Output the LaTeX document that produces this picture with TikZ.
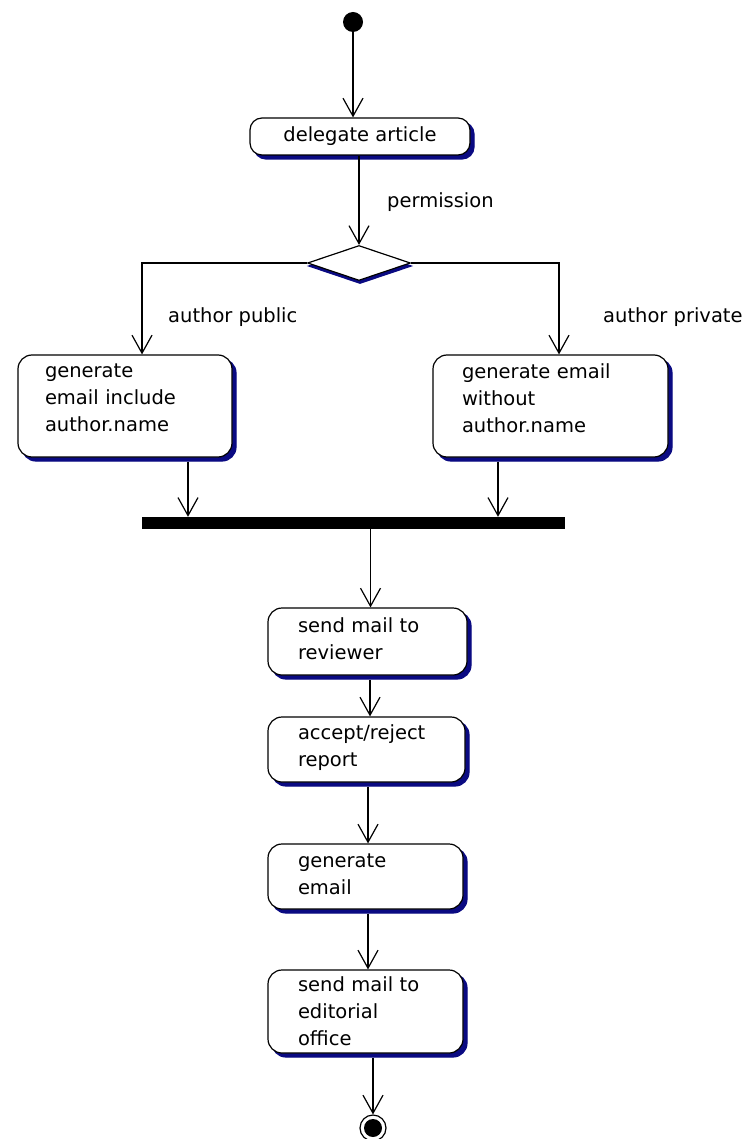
\documentclass[tikz,border=0pt]{standalone}
\usepackage{fontspec}
\setmainfont{DejaVu Sans}
\usetikzlibrary{arrows.meta,shapes.geometric,shadows,calc}
\definecolor{shadowblue}{RGB}{10,10,130}
\begin{document}
\begin{tikzpicture}[x=1pt,y=-1pt,
  every node/.style={font=\fontsize{19.5}{27}\selectfont},
  flow/.style={draw=black, line width=1.2pt,
    -{Straight Barb[length=18pt,width=20pt,line width=1.2pt]}},
  activity/.style={draw=black, fill=white, line width=1.2pt,
    rounded corners=14pt, align=left, inner ysep=0pt,
    general shadow={shadow xshift=4pt, shadow yshift=-4pt, fill=shadowblue, draw=shadowblue}},
  raise text/.style={execute at end node={\endgraf\vspace*{#1}}},
  choice/.style={diamond, draw=black, fill=white, line width=1.2pt, inner sep=0pt,
    minimum width=103pt, minimum height=35pt,
    general shadow={shadow xshift=1pt, shadow yshift=-3pt, fill=shadowblue, draw=shadowblue}},
  guard/.style={anchor=base west, inner sep=0pt}
]
\useasboundingbox (0,0) rectangle (755,1139);

% initial and final states
\node[circle, fill=black, minimum size=20pt, inner sep=0pt] (start) at (353,22) {};
\node[circle, draw=black, line width=1.2pt, minimum size=26pt, inner sep=0pt,
  path picture={\fill[black] (path picture bounding box.center) circle (9pt);}] (final) at (373,1128) {};

% activities
\node[activity, rounded corners=12pt, minimum width=220pt, minimum height=37pt, align=center] (del) at (360,136.5) {delegate article};
\node[choice] (dia) at (359,263) {};
\node[activity, raise text=16pt, minimum width=214pt, minimum height=102pt, inner xsep=27pt, text width=160pt] (left) at (125,406)
  {generate\\email include\\author.name};
\node[activity, raise text=16pt, minimum width=235pt, minimum height=102pt, inner xsep=29pt, text width=177pt] (right) at (550.5,406)
  {generate email\\without\\author.name};
\node[fill=black, minimum width=423pt, minimum height=12pt, inner sep=0pt] (bar) at (353.5,523) {};
\node[activity, raise text=6pt, minimum width=199pt, minimum height=67pt, inner xsep=30pt, text width=139pt] (rev) at (367.5,641.5)
  {send mail to\\reviewer};
\node[activity, raise text=4pt, minimum width=197pt, minimum height=65pt, inner xsep=30pt, text width=137pt] (acc) at (366.5,749.5)
  {accept/reject\\report};
\node[activity, raise text=4pt, minimum width=195pt, minimum height=65pt, inner xsep=30pt, text width=135pt] (gen) at (365.5,876.5)
  {generate\\email};
\node[activity, minimum width=195pt, minimum height=83pt, inner xsep=30pt, text width=135pt] (edi) at (365.5,1011.5)
  {send mail to\\editorial\\office};

% guard labels
\node[guard] (perm) at (387,208) {permission};
\node[guard] (pub) at (168,322) {author public};
\node[guard] (priv) at (603,322) {author private};

% transitions
\coordinate (lin) at ($(left.north)+(17,0)$);
\coordinate (rin) at ($(right.north)+(8.5,0)$);
\coordinate (lout) at ($(left.south)+(63,0)$);
\coordinate (rout) at ($(right.south)+(-52.5,0)$);
\coordinate (bout) at ($(bar.south)+(17,0)$);
\coordinate (mid1) at ($(rev.south)+(2.5,0)$);
\coordinate (mid2) at ($(acc.south)+(1.5,0)$);
\coordinate (mid3) at ($(gen.south)+(2.5,0)$);

\draw[flow] (start) -- (start |- del.north);
\draw[flow] (del.south -| dia.north) -- (dia.north);
\draw[flow] (dia.west) -| (lin);
\draw[flow] (dia.east) -| (rin);
\draw[flow] ([yshift=-4pt]lout) -- (lout |- bar.north);
\draw[flow] ([yshift=-4pt]rout) -- (rout |- bar.north);
\draw[flow] (bout) -- (bout |- rev.north);
\draw[flow] ([yshift=-4pt]mid1) -- (mid1 |- acc.north);
\draw[flow] ([yshift=-4pt]mid2) -- (mid2 |- gen.north);
\draw[flow] ([yshift=-4pt]mid3) -- (mid3 |- edi.north);
\draw[flow] ([yshift=-4pt]edi.south -| final.north) -- (final.north);
\end{tikzpicture}
\end{document}
